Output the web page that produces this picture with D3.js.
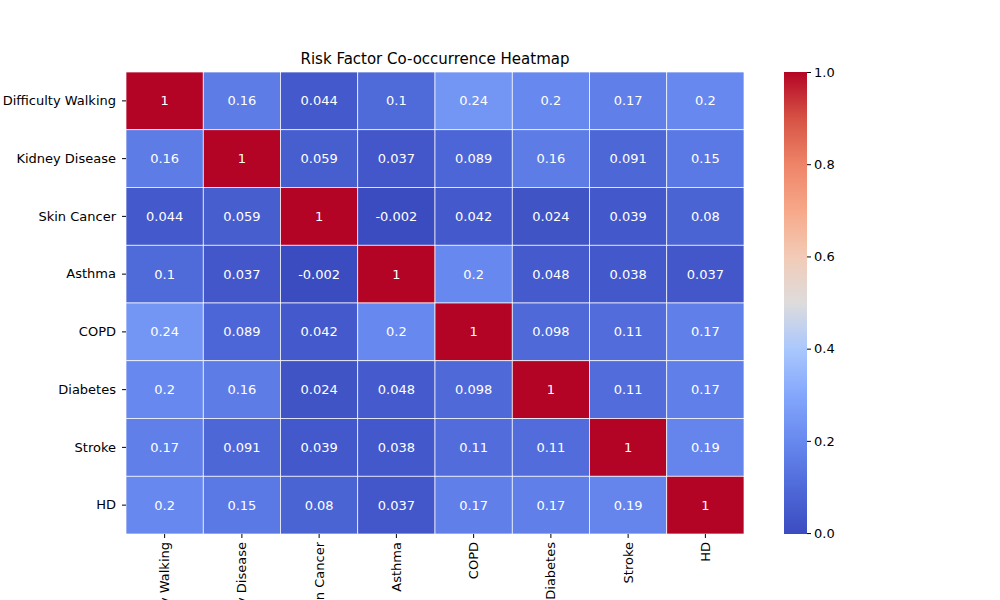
<!DOCTYPE html>
<html>
<head>
<script src="https://d3js.org/d3.v7.min.js"></script>
<style>
  body { margin:0; background:#fff; }
  text { font-family: "DejaVu Sans", sans-serif; }
</style>
</head>
<body>
<div class="chart"></div>
<script>
const labels = ["Difficulty Walking","Kidney Disease","Skin Cancer","Asthma","COPD","Diabetes","Stroke","HD"];
const matrix = [
  [1, 0.16, 0.044, 0.1, 0.24, 0.2, 0.17, 0.2],
  [0.16, 1, 0.059, 0.037, 0.089, 0.16, 0.091, 0.15],
  [0.044, 0.059, 1, -0.002, 0.042, 0.024, 0.039, 0.08],
  [0.1, 0.037, -0.002, 1, 0.2, 0.048, 0.038, 0.037],
  [0.24, 0.089, 0.042, 0.2, 1, 0.098, 0.11, 0.17],
  [0.2, 0.16, 0.024, 0.048, 0.098, 1, 0.11, 0.17],
  [0.17, 0.091, 0.039, 0.038, 0.11, 0.11, 1, 0.19],
  [0.2, 0.15, 0.08, 0.037, 0.17, 0.17, 0.19, 1]
];
const cbTicks = [0, 0.2, 0.4, 0.6, 0.8, 1.0];
// coolwarm stops
const cw = ["#3b4cc0","#4f69d9","#6788ee","#84a7fc","#aac7fd","#dddcdc","#f2cbb7","#f7a889","#ee8468","#d65244","#b40426"];

const W = 1000, H = 600;
const mLeft = 126, mTop = 72, mRight = 744, mBottom = 534;
const svg = d3.select('.chart').append('svg').attr('width', W).attr('height', H);

const flat = matrix.flat();
const vmin = d3.min(flat), vmax = d3.max(flat);
const interp = d3.piecewise(d3.interpolateRgb, cw);
const color = v => interp((v - vmin) / (vmax - vmin));

const x = d3.scaleBand().domain(labels).range([mLeft, mRight]);
const y = d3.scaleBand().domain(labels).range([mTop, mBottom]);

function lum(c) {
  const rgb = d3.rgb(c);
  const f = u => { u /= 255; return u <= 0.03928 ? u / 12.92 : Math.pow((u + 0.055) / 1.055, 2.4); };
  return 0.2126 * f(rgb.r) + 0.7152 * f(rgb.g) + 0.0722 * f(rgb.b);
}

const cells = [];
matrix.forEach((row, i) => row.forEach((v, j) => cells.push({r: labels[i], c: labels[j], v})));

svg.selectAll('rect.cell').data(cells).join('rect')
  .attr('x', d => x(d.c)).attr('y', d => y(d.r))
  .attr('width', x.bandwidth()).attr('height', y.bandwidth())
  .attr('fill', d => color(d.v)).attr('stroke', '#fff').attr('stroke-width', 0.7);

svg.selectAll('text.val').data(cells).join('text')
  .attr('x', d => x(d.c) + x.bandwidth() / 2).attr('y', d => y(d.r) + y.bandwidth() / 2)
  .attr('text-anchor', 'middle').attr('dominant-baseline', 'central')
  .attr('font-size', 13)
  .attr('fill', d => lum(color(d.v)) > 0.408 ? '#262626' : '#fff')
  .text(d => String(d.v));

const xAxis = svg.append('g').attr('transform', `translate(0,${mBottom})`)
  .call(d3.axisBottom(x).tickSizeOuter(0).tickSize(4));
xAxis.select('.domain').remove();
xAxis.selectAll('text').attr('font-size', 13).attr('fill', '#000')
  .attr('transform', 'rotate(-90)').attr('text-anchor', 'end')
  .attr('dx', 0).attr('dy', '0.35em').attr('y', 0).attr('x', -8);

const yAxis = svg.append('g').attr('transform', `translate(${mLeft},0)`)
  .call(d3.axisLeft(y).tickSizeOuter(0).tickSize(4));
yAxis.select('.domain').remove();
yAxis.selectAll('text').attr('font-size', 13).attr('fill', '#000').attr('x', -10);

svg.append('text').attr('x', (mLeft + mRight) / 2).attr('y', 64)
  .attr('text-anchor', 'middle').attr('font-size', 15).text('Risk Factor Co-occurrence Heatmap');

// colorbar
const cbX = 784, cbW = 23;
const cy = d3.scaleLinear().domain([vmin, vmax]).range([mBottom, mTop]);
const defs = svg.append('defs');
const grad = defs.append('linearGradient').attr('id', 'cb').attr('x1', 0).attr('y1', 1).attr('x2', 0).attr('y2', 0);
cw.forEach((c, i) => grad.append('stop').attr('offset', i / (cw.length - 1)).attr('stop-color', c));
svg.append('rect').attr('x', cbX).attr('y', mTop).attr('width', cbW).attr('height', mBottom - mTop).attr('fill', 'url(#cb)');
const cAxis = svg.append('g').attr('transform', `translate(${cbX + cbW},0)`)
  .call(d3.axisRight(cy).tickValues(cbTicks).tickFormat(d3.format('.1f')).tickSize(4).tickSizeOuter(0));
cAxis.select('.domain').remove();
cAxis.selectAll('text').attr('font-size', 13).attr('fill', '#000');
</script>
</body>
</html>
